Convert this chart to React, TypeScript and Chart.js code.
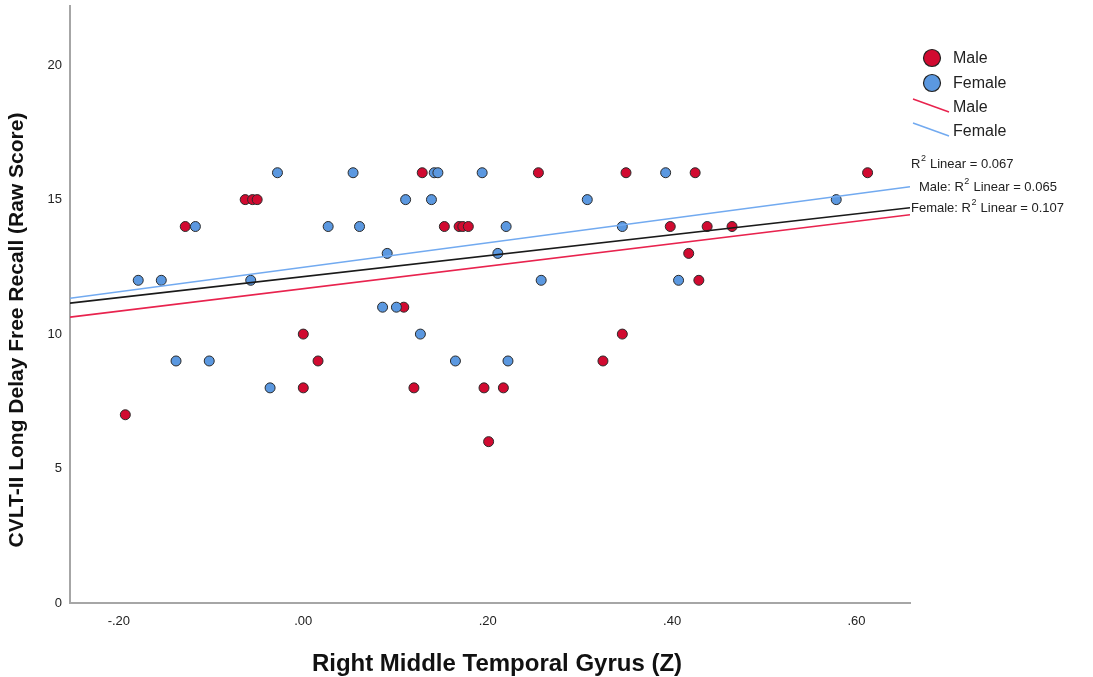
import React, { useEffect, useRef } from "react";
import { Chart, registerables } from "chart.js";

Chart.register(...registerables);

// ---- data ----
const maleX = [0.129, 0.255, 0.35, 0.425, 0.612, -0.063, -0.055, -0.05, -0.128, 0.153, 0.169, 0.173, 0.179, 0.398, 0.438, 0.465, 0.418, 0.429, 0.109, 0.0, 0.346, 0.016, 0.325, 0.0, 0.12, 0.196, 0.217, -0.193, 0.201];
const maleY = [16, 16, 16, 16, 16, 15, 15, 15, 14, 14, 14, 14, 14, 14, 14, 14, 13, 12, 11, 10, 10, 9, 9, 8, 8, 8, 8, 7, 6];
const femaleX = [-0.028, 0.054, 0.142, 0.146, 0.194, 0.393, 0.111, 0.139, 0.308, 0.578, -0.117, 0.027, 0.061, 0.22, 0.346, 0.091, 0.211, -0.179, -0.154, -0.057, 0.258, 0.407, 0.086, 0.101, 0.127, -0.138, -0.102, 0.165, 0.222, -0.036];
const femaleY = [16, 16, 16, 16, 16, 16, 15, 15, 15, 15, 14, 14, 14, 14, 14, 13, 13, 12, 12, 12, 12, 12, 11, 11, 10, 9, 9, 9, 9, 8];

const fitX = [-0.253, 0.658];
const totalFitY = [11.15, 14.7];
const maleFitY = [10.63, 14.44];
const femaleFitY = [11.33, 15.48];

const xTickValues = [-0.2, 0, 0.2, 0.4, 0.6];
const xTickLabels = ["-.20", ".00", ".20", ".40", ".60"];
const yTickValues = [0, 5, 10, 15, 20];
const yTickLabels = ["0", "5", "10", "15", "20"];

const seriesNames = ["Male", "Female"];
const r2Labels = [
  { prefix: "", value: "0.067" },
  { prefix: "Male: ", value: "0.065" },
  { prefix: "Female: ", value: "0.107" },
];

const xTitle = "Right Middle Temporal Gyrus (Z)";
const yTitle = "CVLT-II Long Delay Free Recall (Raw Score)";

const RED = "#d10a30";
const BLUE = "#5b98e0";
const RED_LINE = "#e8234e";
const BLUE_LINE = "#72aaf0";
const FONT = "'Liberation Sans', Arial, sans-serif";

const pts = (xs: number[], ys: number[]) => xs.map((x, i) => ({ x, y: ys[i] }));

const overlayPlugin = {
  id: "overlay",
  afterDraw(chart: any) {
    const ctx = chart.ctx as CanvasRenderingContext2D;
    ctx.save();
    // axis titles
    ctx.fillStyle = "#111";
    ctx.font = `bold 24px ${FONT}`;
    ctx.textAlign = "center";
    ctx.textBaseline = "alphabetic";
    ctx.fillText(xTitle, 497, 671);
    ctx.save();
    ctx.font = `bold 21px ${FONT}`;
    ctx.translate(23, 330);
    ctx.rotate(-Math.PI / 2);
    ctx.fillText(yTitle, 0, 0);
    ctx.restore();

    // legend
    ctx.textAlign = "left";
    ctx.textBaseline = "middle";
    ctx.font = `16px ${FONT}`;
    const circleColors = [RED, BLUE];
    const circleY = [58, 83];
    seriesNames.forEach((name, i) => {
      ctx.beginPath();
      ctx.arc(932, circleY[i], 8.5, 0, Math.PI * 2);
      ctx.fillStyle = circleColors[i];
      ctx.fill();
      ctx.lineWidth = 1.2;
      ctx.strokeStyle = "#222";
      ctx.stroke();
      ctx.fillStyle = "#222";
      ctx.fillText(name, 953, circleY[i] + 1);
    });
    const lineColors = [RED_LINE, BLUE_LINE];
    const lineY = [108, 132];
    seriesNames.forEach((name, i) => {
      ctx.beginPath();
      ctx.moveTo(913, lineY[i] - 9);
      ctx.lineTo(949, lineY[i] + 4);
      ctx.strokeStyle = lineColors[i];
      ctx.lineWidth = 1.5;
      ctx.stroke();
      ctx.fillStyle = "#222";
      ctx.fillText(name, 953, lineY[i]);
    });

    // R2 labels
    const r2Pos = [
      { x: 911, y: 164 },
      { x: 919, y: 187 },
      { x: 911, y: 208 },
    ];
    r2Labels.forEach((lab, i) => {
      let x = r2Pos[i].x;
      const y = r2Pos[i].y;
      ctx.fillStyle = "#222";
      ctx.font = `13px ${FONT}`;
      const t1 = lab.prefix + "R";
      ctx.fillText(t1, x, y);
      x += ctx.measureText(t1).width;
      ctx.font = `9px ${FONT}`;
      ctx.fillText("2", x + 0.5, y - 5);
      x += ctx.measureText("2").width + 1;
      ctx.font = `13px ${FONT}`;
      ctx.fillText(" Linear = " + lab.value, x, y);
    });
    ctx.restore();
  },
};

export default function App() {
  const canvasRef = useRef<HTMLCanvasElement | null>(null);

  useEffect(() => {
    if (!canvasRef.current) return;
    const chart = new Chart(canvasRef.current, {
      type: "scatter",
      data: {
        datasets: [
          {
            type: "line",
            label: "Total fit",
            data: pts(fitX, totalFitY),
            borderColor: "#1a1a1a",
            borderWidth: 1.6,
            pointRadius: 0,
            showLine: true,
            order: 0,
          } as any,
          {
            type: "line",
            label: "Male fit",
            data: pts(fitX, maleFitY),
            borderColor: RED_LINE,
            borderWidth: 1.6,
            pointRadius: 0,
            showLine: true,
            order: 0,
          },
          {
            type: "line",
            label: "Female fit",
            data: pts(fitX, femaleFitY),
            borderColor: BLUE_LINE,
            borderWidth: 1.6,
            pointRadius: 0,
            showLine: true,
            order: 0,
          },
          {
            label: "Female",
            data: pts(femaleX, femaleY),
            backgroundColor: BLUE,
            borderColor: "#2a2a2a",
            borderWidth: 1,
            pointRadius: 5,
            order: 1,
          },
          {
            label: "Male",
            data: pts(maleX, maleY),
            backgroundColor: RED,
            borderColor: "#2a2a2a",
            borderWidth: 1,
            pointRadius: 5,
            order: 2,
          },
        ],
      },
      options: {
        animation: false,
        responsive: false,
        maintainAspectRatio: false,
        layout: { padding: { top: 4, right: 183, left: 0, bottom: 0 } },
        plugins: {
          legend: { display: false },
          tooltip: { enabled: false },
        },
        scales: {
          x: {
            type: "linear",
            min: fitX[0],
            max: fitX[1],
            grid: { display: false, drawTicks: false },
            border: { display: true, color: "#a6a6a6", width: 2 },
            afterBuildTicks: (scale: any) => {
              scale.ticks = xTickValues.map((v) => ({ value: v }));
            },
            afterFit: (scale: any) => {
              scale.height = 74;
              scale.paddingLeft = 0;
              scale.paddingRight = 0;
            },
            ticks: {
              padding: 11,
              color: "#222",
              font: { family: FONT, size: 13 },
              callback: (v: any) => {
                const i = xTickValues.findIndex((t) => Math.abs(t - Number(v)) < 1e-9);
                return i >= 0 ? xTickLabels[i] : "";
              },
            },
          },
          y: {
            type: "linear",
            min: 0,
            max: 22.2,
            grid: { display: false, drawTicks: false },
            border: { display: true, color: "#a6a6a6", width: 2 },
            afterBuildTicks: (scale: any) => {
              scale.ticks = yTickValues.map((v) => ({ value: v }));
            },
            afterFit: (scale: any) => {
              scale.width = 70;
              scale.paddingTop = 0;
              scale.paddingBottom = 0;
            },
            ticks: {
              padding: 8,
              color: "#222",
              font: { family: FONT, size: 13 },
              callback: (v: any) => {
                const i = yTickValues.findIndex((t) => Math.abs(t - Number(v)) < 1e-9);
                return i >= 0 ? yTickLabels[i] : "";
              },
            },
          },
        },
      },
      plugins: [overlayPlugin],
    });
    return () => chart.destroy();
  }, []);

  return (
    <div style={{ position: "fixed", left: 0, top: 0, width: 1093, height: 677, background: "#fff" }}>
      <canvas ref={canvasRef} width={1093} height={677} style={{ width: 1093, height: 677, display: "block" }} />
    </div>
  );
}
